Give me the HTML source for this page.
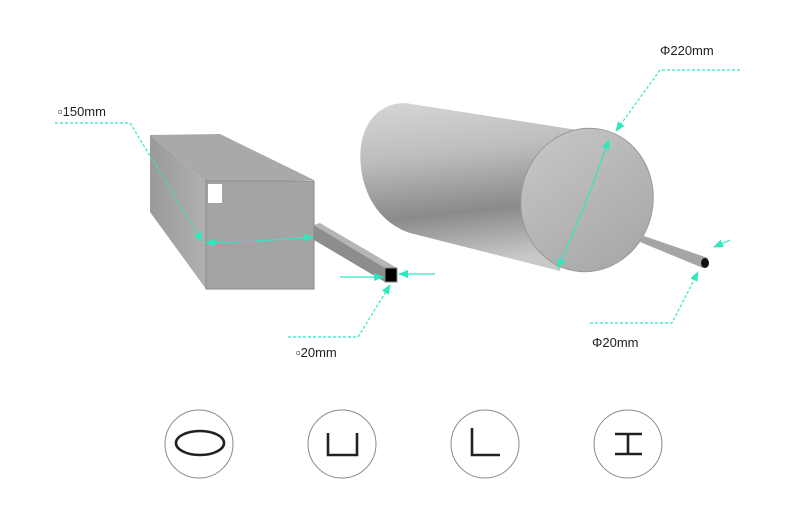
<!DOCTYPE html><html><head><meta charset="utf-8"><style>body{margin:0;background:#fff}svg{display:block}text{font-family:"Liberation Sans",sans-serif;font-size:13px;fill:#222}</style></head><body>
<svg width="798" height="513" viewBox="0 0 798 513" xmlns="http://www.w3.org/2000/svg">
<defs>
<linearGradient id="cyl" x1="0" y1="0" x2="0.15" y2="1"><stop offset="0" stop-color="#d6d6d6"/><stop offset="0.35" stop-color="#bdbdbd"/><stop offset="0.7" stop-color="#8a8a8a"/><stop offset="1" stop-color="#c8c8c8"/></linearGradient>
<linearGradient id="cap" x1="0" y1="0" x2="1" y2="1"><stop offset="0" stop-color="#c8c8c8"/><stop offset="1" stop-color="#a4a4a4"/></linearGradient>
<linearGradient id="side" x1="0" y1="0" x2="1" y2="0"><stop offset="0" stop-color="#9a9a9a"/><stop offset="1" stop-color="#b0b0b0"/></linearGradient>
<marker id="ah" markerWidth="10" markerHeight="8" refX="9" refY="4" orient="auto" markerUnits="userSpaceOnUse"><path d="M0,0L10,4L0,8z" fill="#2ee8c0"/></marker>
</defs>
<polygon points="150,135 220,134 314,180 206,182" fill="#a9a9a9"/>
<polygon points="150,135 206,182 206,289 150,212" fill="url(#side)"/>
<rect x="206" y="181" width="108" height="108" fill="#a4a4a4" stroke="#8a8a8a"/>
<rect x="208" y="184" width="14" height="19" fill="#fff"/>
<polygon points="314,225 320,223 397,268 385,268" fill="#b5b5b5"/>
<polygon points="314,225 385,268 385,282 314,240" fill="#8d8d8d"/>
<rect x="385" y="268" width="12" height="14" fill="#000" stroke="#888"/>
<path d="M405,103 L590,132 L560,271 L410,233 C370,220 355,175 362,140 C368,115 385,103 405,103Z" fill="url(#cyl)"/>
<ellipse cx="587" cy="200" rx="66" ry="72" transform="rotate(12 587 200)" fill="url(#cap)" stroke="#999"/>
<polygon points="640,242 644,236 708,258 703,268" fill="#a5a5a5"/>
<ellipse cx="705" cy="263" rx="4" ry="5" fill="#111"/>
<g stroke="#2ee8c0" stroke-width="1.2" fill="none">
<path d="M55,123 H130 L202,241" stroke-dasharray="3,2" marker-end="url(#ah)"/>
<path d="M260,241 L206,243" marker-end="url(#ah)"/>
<path d="M260,241 L313,237" marker-end="url(#ah)"/>
<path d="M340,277 H383" marker-end="url(#ah)"/>
<path d="M435,274 H399" marker-end="url(#ah)"/>
<path d="M288,337 H358 L390,285" stroke-dasharray="3,2" marker-end="url(#ah)"/>
<path d="M740,70 H660 L616,131" stroke-dasharray="3,2" marker-end="url(#ah)"/>
<path d="M585,205 L609,140" marker-end="url(#ah)"/>
<path d="M585,205 L558,268" marker-end="url(#ah)"/>
<path d="M590,323 H672 L698,272" stroke-dasharray="3,2" marker-end="url(#ah)"/>
<path d="M730,240 L714,247" marker-end="url(#ah)"/>
</g>
<text x="58" y="116">▫150mm</text>
<text x="296" y="357">▫20mm</text>
<text x="660" y="55">Φ220mm</text>
<text x="592" y="347">Φ20mm</text>
<g stroke="#888" fill="none" stroke-width="1">
<circle cx="199" cy="444" r="34"/><circle cx="342" cy="444" r="34"/><circle cx="485" cy="444" r="34"/><circle cx="628" cy="444" r="34"/>
</g>
<g stroke="#222" fill="none" stroke-width="2.6">
<ellipse cx="200" cy="443" rx="24" ry="12"/>
<path d="M328,433 V455 H357 V433"/>
<path d="M472,428 V455 H500"/>
<path d="M615,434 H642 M628,434 V454 M615,454 H642"/>
</g>
</svg></body></html>
